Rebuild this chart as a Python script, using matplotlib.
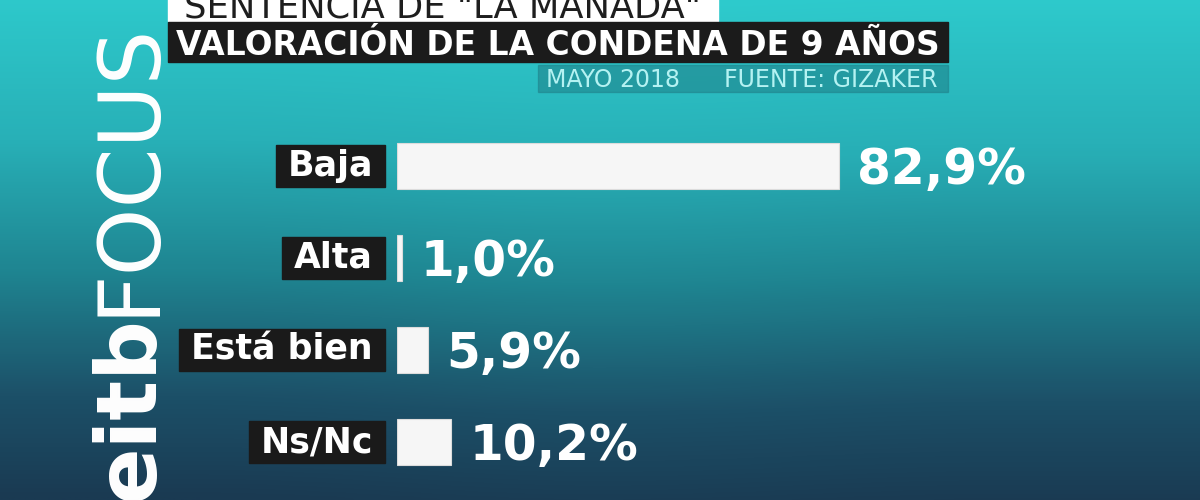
import numpy as np
import matplotlib.pyplot as plt
from matplotlib.patches import Rectangle
from matplotlib.transforms import IdentityTransform
from matplotlib.colors import LinearSegmentedColormap

# --- Datos ---
categorias = ['Baja', 'Alta', 'Está bien', 'Ns/Nc']
valores = [82.9, 1.0, 5.9, 10.2]
etiquetas_valor = ['82,9%', '1,0%', '5,9%', '10,2%']

titulo_sup = 'SENTENCIA DE "LA MANADA"'
titulo = 'VALORACIÓN DE LA CONDENA DE 9 AÑOS'
fecha = 'MAYO 2018'
fuente = 'FUENTE: GIZAKER'

W, H = 1200, 500
fig = plt.figure(figsize=(12, 5), dpi=100)
renderer = fig.canvas.get_renderer()

# fondo degradado
bg = fig.add_axes([0, 0, 1, 1])
bg.set_axis_off()
cmap = LinearSegmentedColormap.from_list('fondo', [
    (0.0, '#2ecbcd'), (0.3, '#28b0b7'), (0.55, '#1f8692'),
    (0.8, '#1c5068'), (1.0, '#1a3a52')])
grad = np.linspace(0, 1, 256).reshape(-1, 1)
grad = np.hstack([grad + 0.03, grad, grad + 0.02])
bg.imshow(grad, aspect='auto', cmap=cmap, extent=[0, 1, 0, 1], origin='upper')
bg.set_xlim(0, 1)
bg.set_ylim(0, 1)

def px(x, y):
    # pixel (desde arriba) -> fraccion de figura
    return x / W, 1 - y / H

def caja(x0, y0, x1, y1, color, alpha=1.0, z=1):
    fig.patches.append(Rectangle(px(x0, y1), (x1 - x0) / W, (y1 - y0) / H,
                                 transform=fig.transFigure, color=color,
                                 alpha=alpha, zorder=z))

def ajustar(t, ancho):
    # reduce el tamaño de letra para que el texto quepa en 'ancho' pixeles
    w = t.get_window_extent(renderer).width
    t.set_fontsize(t.get_fontsize() * ancho / w)

# cabecera
caja(168, -5, 718, 21, 'white')
t = fig.text(*px(184, 17), titulo_sup, color='#1e1e1e', fontsize=20,
             family='DejaVu Sans', ha='left', va='baseline', zorder=3)
ajustar(t, 516)
caja(168, 22, 948, 62, '#1b1b1b')
t = fig.text(*px(176, 55), titulo, color='white', fontsize=30,
             fontweight='bold', family='DejaVu Sans', ha='left',
             va='baseline', zorder=3)
ajustar(t, 764)
caja(538, 65, 948, 92, '#1f7f88', alpha=0.55)
fig.text(*px(546, 87), fecha, color='#b4f2f2', fontsize=17,
         family='DejaVu Sans', ha='left', va='baseline', zorder=3)
fig.text(*px(938, 87), fuente, color='#b4f2f2', fontsize=17,
         family='DejaVu Sans', ha='right', va='baseline', zorder=3)

# logo vertical
fig.text(*px(153, 316), 'eitb', color='white', fontsize=60, fontweight='bold',
         family='DejaVu Sans', rotation=90, rotation_mode='anchor',
         ha='right', va='baseline', zorder=3)
fig.text(*px(153, 316), 'FOCUS', color='white', fontsize=62,
         family='DejaVu Sans', rotation=90, rotation_mode='anchor',
         ha='left', va='baseline', zorder=3)

# barras
x0, px_por_pct = 397, 5.33
ax = fig.add_axes([x0 / W, 12 / H, (W - x0) / W, 368 / H])
ax.set_axis_off()
ax.patch.set_alpha(0)
pos = np.arange(len(categorias))
ax.barh(pos, valores, height=0.49, color='#f6f6f6', edgecolor='#dcdcdc',
        linewidth=0.8)
ax.set_xlim(0, (W - x0) / px_por_pct)
ax.set_ylim(len(categorias) - 0.5, -0.5)

for i, (cat, v, lab) in enumerate(zip(categorias, valores, etiquetas_valor)):
    t = ax.annotate(cat, xy=(0, i), xytext=(-24, 0), textcoords='offset pixels',
                    ha='right', va='center', color='white', fontsize=25,
                    fontweight='bold', family='DejaVu Sans', zorder=5)
    ext = t.get_window_extent(renderer)
    yc = ax.transData.transform((0, i))[1]
    # caja negra detras de la etiqueta (coordenadas de pantalla)
    ax.add_patch(Rectangle((ext.x0 - 12, yc - 21), ext.width + 24, 42,
                           transform=IdentityTransform(), color='#1a1a1a',
                           clip_on=False, zorder=4))
    ax.annotate(lab, xy=(v, i), xytext=(18, -4), textcoords='offset pixels',
                ha='left', va='center', color='white', fontsize=35,
                fontweight='bold', family='DejaVu Sans')

fig.savefig('out.png', dpi=100)
